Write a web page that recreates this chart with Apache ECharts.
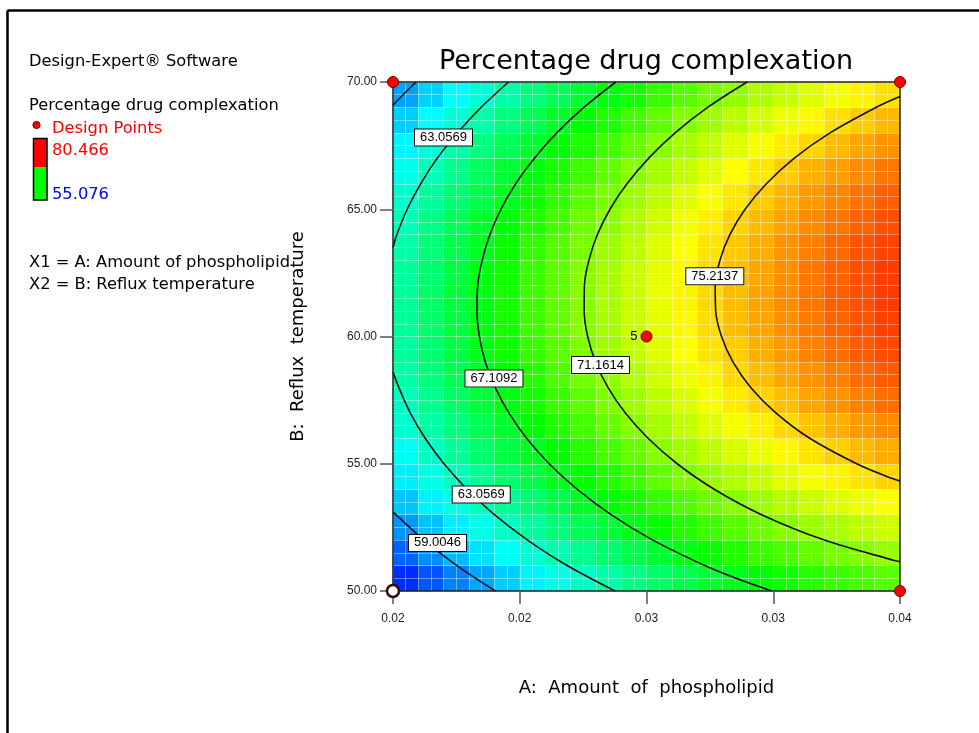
<!DOCTYPE html>
<html><head><meta charset="utf-8">
<script src="https://cdn.jsdelivr.net/npm/echarts@6/dist/echarts.min.js"></script>
<style>html,body{margin:0;padding:0;background:#fff}#c{width:979px;height:733px}</style>
</head><body><div id="c"></div>
<script>
// ---- data ----
const xTickLabels = ['0.02', '0.02', '0.03', '0.03', '0.04'];
const yTickLabels = ['50.00', '55.00', '60.00', '65.00', '70.00'];

// cell centres of the response-surface grid
const cellA = [0.0205,0.0215,0.0225,0.0235,0.0245,0.0255,0.0265,0.0275,0.0285,0.0295,0.0305,0.0315,0.0325,0.0335,0.0345,0.0355,0.0365,0.0375,0.0385,0.0395];
const cellB = [50.5,51.5,52.5,53.5,54.5,55.5,56.5,57.5,58.5,59.5,60.5,61.5,62.5,63.5,64.5,65.5,66.5,67.5,68.5,69.5];

// predicted % drug complexation, one row per B cell (bottom to top)
const surfaceRows = [
 [56.2,57.2,58.3,59.2,60.2,61.1,62.0,62.8,63.6,64.4,65.1,65.8,66.5,67.1,67.7,68.2,68.7,69.2,69.6,70.0],
 [57.6,58.6,59.7,60.7,61.6,62.6,63.4,64.3,65.1,65.9,66.6,67.3,68.0,68.6,69.2,69.7,70.2,70.7,71.1,71.5],
 [58.8,59.9,61.0,62.0,62.9,63.9,64.8,65.6,66.4,67.2,67.9,68.6,69.3,69.9,70.5,71.1,71.6,72.0,72.5,72.9],
 [60.0,61.1,62.1,63.1,64.1,65.0,65.9,66.8,67.6,68.4,69.1,69.8,70.5,71.1,71.7,72.3,72.8,73.3,73.7,74.1],
 [61.0,62.1,63.1,64.1,65.1,66.1,67.0,67.8,68.6,69.4,70.2,70.9,71.6,72.2,72.8,73.4,73.9,74.4,74.8,75.2],
 [61.8,62.9,64.0,65.0,66.0,66.9,67.8,68.7,69.5,70.3,71.1,71.8,72.5,73.1,73.7,74.3,74.8,75.3,75.8,76.2],
 [62.6,63.7,64.7,65.7,66.7,67.7,68.6,69.5,70.3,71.1,71.9,72.6,73.3,73.9,74.5,75.1,75.6,76.1,76.6,77.0],
 [63.1,64.2,65.3,66.3,67.3,68.3,69.2,70.1,70.9,71.7,72.5,73.2,73.9,74.6,75.2,75.7,76.3,76.8,77.2,77.7],
 [63.6,64.7,65.8,66.8,67.8,68.7,69.7,70.6,71.4,72.2,73.0,73.7,74.4,75.1,75.7,76.3,76.8,77.3,77.8,78.2],
 [63.9,65.0,66.1,67.1,68.1,69.1,70.0,70.9,71.7,72.6,73.3,74.1,74.8,75.4,76.1,76.6,77.2,77.7,78.2,78.6],
 [64.0,65.1,66.2,67.3,68.3,69.3,70.2,71.1,71.9,72.8,73.5,74.3,75.0,75.7,76.3,76.9,77.4,78.0,78.4,78.9],
 [64.0,65.2,66.3,67.3,68.3,69.3,70.2,71.1,72.0,72.8,73.6,74.4,75.1,75.7,76.4,77.0,77.5,78.1,78.5,79.0],
 [63.9,65.0,66.1,67.2,68.2,69.2,70.1,71.1,71.9,72.8,73.5,74.3,75.0,75.7,76.3,76.9,77.5,78.0,78.5,79.0],
 [63.6,64.8,65.9,67.0,68.0,69.0,69.9,70.8,71.7,72.5,73.3,74.1,74.8,75.5,76.1,76.8,77.3,77.9,78.4,78.8],
 [63.2,64.4,65.5,66.6,67.6,68.6,69.5,70.5,71.3,72.2,73.0,73.8,74.5,75.2,75.8,76.4,77.0,77.5,78.0,78.5],
 [62.7,63.9,65.0,66.0,67.1,68.1,69.0,70.0,70.8,71.7,72.5,73.3,74.0,74.7,75.4,76.0,76.6,77.1,77.6,78.1],
 [62.0,63.2,64.3,65.4,66.4,67.4,68.4,69.3,70.2,71.1,71.9,72.6,73.4,74.1,74.7,75.4,76.0,76.5,77.0,77.5],
 [61.2,62.4,63.5,64.6,65.6,66.6,67.6,68.5,69.4,70.3,71.1,71.9,72.6,73.3,74.0,74.6,75.2,75.8,76.3,76.8],
 [60.2,61.4,62.5,63.6,64.7,65.7,66.7,67.6,68.5,69.4,70.2,71.0,71.7,72.4,73.1,73.7,74.3,74.9,75.4,75.9],
 [59.1,60.3,61.4,62.5,63.6,64.6,65.6,66.5,67.4,68.3,69.1,69.9,70.7,71.4,72.1,72.7,73.3,73.9,74.4,74.9]
];

// contour lines [A, B]
const c75 = [[0.04,69.43],[0.03905,69],[0.03724,68],[0.03582,67],[0.03473,66],[0.03389,65],[0.03329,64],[0.0329,63],[0.03271,62],[0.03273,61],[0.03296,60],[0.03341,59],[0.03411,58],[0.0351,57],[0.03644,56],[0.03829,55],[0.03948,54.5],[0.04,54.32]];
const c71 = [[0.03397,70],[0.03241,69],[0.03113,68],[0.03008,67],[0.02923,66],[0.02856,65],[0.02806,64],[0.02773,63],[0.02755,62],[0.02754,61],[0.02768,60],[0.02799,59],[0.02848,58],[0.02916,57],[0.03006,56],[0.03121,55],[0.03267,54],[0.03454,53],[0.03702,52],[0.03978,51.2],[0.04,51.15]];
const c67 = [[0.02879,70],[0.02753,69],[0.02646,68],[0.02558,67],[0.02484,66],[0.02426,65],[0.02382,64],[0.02352,63],[0.02334,62],[0.02331,61],[0.02341,60],[0.02364,59],[0.02403,58],[0.02457,57],[0.02527,56],[0.02616,55],[0.02726,54],[0.0286,53],[0.03025,52],[0.0323,51],[0.03353,50.5],[0.03494,50]];
const c63upper = [[0.02456,70],[0.02347,69],[0.02254,68],[0.02174,67],[0.02109,66],[0.02056,65],[0.02015,64],[0.02,63.5]];
const c63lower = [[0.02,58.6],[0.02023,58],[0.02068,57],[0.02127,56],[0.02201,55],[0.02292,54],[0.024,53],[0.02531,52],[0.02687,51],[0.02876,50]];
const c59lower = [[0.02,53.1],[0.02011,53],[0.02122,52],[0.02252,51],[0.02404,50]];
const c59upper = [[0.02,69.09],[0.0204,69.5],[0.02091,70]];

// contour labels
const labelText = ['63.0569', '75.2137', '71.1614', '67.1092', '63.0569', '59.0046'];
const labelA = [0.021992, 0.032694, 0.028185, 0.023984, 0.02348, 0.021755];
const labelB = [67.82, 62.37, 58.88, 58.35, 53.79, 51.89];

// design points
const designA = [0.02, 0.04, 0.04, 0.03];
const designB = [70, 70, 50, 60];
const designReps = [1, 1, 1, 5];
const openA = [0.02];
const openB = [50];

const colorMin = 55.076, colorMax = 80.466;

// ---- build ----
const heatData = [];
surfaceRows.forEach((row, j) => row.forEach((v, i) => heatData.push([i, j, v])));

function contour(data) {
  return { type: 'line', xAxisIndex: 0, yAxisIndex: 0, data: data, smooth: 0.35, showSymbol: false, symbol: 'none',
    lineStyle: { color: '#111', width: 1.6 }, z: 4, silent: true };
}

const labelData = labelText.map((t, i) => ({ name: t, value: [labelA[i], labelB[i]] }));
const designData = designA.map((a, i) => ({
  value: [a, designB[i]],
  label: { show: designReps[i] > 1, formatter: String(designReps[i]), position: 'left', distance: 3,
    fontSize: 13, color: '#000', fontFamily: 'Liberation Sans' }
}));
const openData = openA.map((a, i) => [a, openB[i]]);

const txt = (text, x, y, color, size, align) => ({
  type: 'text', z: 10,
  style: { text: text, x: x, y: y, fill: color || '#000', font: (size || 16.3) + 'px "DejaVu Sans"',
    textAlign: align || 'left', align: align || 'left', textVerticalAlign: 'middle', verticalAlign: 'middle' }
});

const chart = echarts.init(document.getElementById('c'), null, { renderer: 'canvas' });
chart.setOption({
  animation: false,
  backgroundColor: '#fff',
  grid: { left: 393, top: 82, width: 507, height: 509, containLabel: false },
  visualMap: { type: 'continuous', min: colorMin, max: colorMax, seriesIndex: 0, show: false,
    inRange: { color: ['#0000ff', '#00ffff', '#00ff00', '#ffff00', '#ff0000'] } },
  xAxis: [
    { type: 'value', min: 0.02, max: 0.04, interval: 0.005, position: 'bottom', z: 6,
      axisLine: { show: true, onZero: false, lineStyle: { color: '#222', width: 1.5 } },
      axisTick: { show: true, length: 13, lineStyle: { color: '#555', width: 1.5 } },
      axisLabel: { margin: 22, fontSize: 12, color: '#222', fontFamily: 'Liberation Sans',
        formatter: (v, i) => xTickLabels[i], showMinLabel: true, showMaxLabel: true },
      splitLine: { show: false },
      name: 'A:  Amount  of  phospholipid', nameLocation: 'middle', nameGap: 88,
      nameTextStyle: { fontSize: 18, fontFamily: 'DejaVu Sans', color: '#000' } },
    { type: 'category', data: cellA.map(String), show: false, position: 'bottom' },
    { type: 'value', min: 0.02, max: 0.04, interval: 0.0005, position: 'top', z: 3,
      axisLine: { show: true, onZero: false, lineStyle: { color: '#222', width: 1.5 } },
      axisTick: { show: false }, axisLabel: { show: false },
      splitLine: { show: true, lineStyle: { color: 'rgba(255,255,255,0.38)', width: 1 } } }
  ],
  yAxis: [
    { type: 'value', min: 50, max: 70, interval: 5, position: 'left', z: 6,
      axisLine: { show: true, onZero: false, lineStyle: { color: '#222', width: 1.5 } },
      axisTick: { show: true, length: 13, lineStyle: { color: '#555', width: 1.5 } },
      axisLabel: { margin: 16, fontSize: 12, color: '#222', fontFamily: 'Liberation Sans',
        formatter: (v, i) => yTickLabels[i], showMinLabel: true, showMaxLabel: true },
      splitLine: { show: false },
      name: 'B:  Reflux  temperature', nameLocation: 'middle', nameGap: 86,
      nameTextStyle: { fontSize: 18, fontFamily: 'DejaVu Sans', color: '#000' } },
    { type: 'category', data: cellB.map(String), show: false, position: 'left' },
    { type: 'value', min: 50, max: 70, interval: 0.5, position: 'right', z: 3,
      axisLine: { show: true, onZero: false, lineStyle: { color: '#222', width: 1.5 } },
      axisTick: { show: false }, axisLabel: { show: false },
      splitLine: { show: true, lineStyle: { color: 'rgba(255,255,255,0.38)', width: 1 } } }
  ],
  series: [
    { type: 'heatmap', xAxisIndex: 1, yAxisIndex: 1, data: heatData, z: 2, itemStyle: { borderWidth: 0 } },
    contour(c75), contour(c71), contour(c67), contour(c63upper), contour(c63lower), contour(c59lower), contour(c59upper),
    { type: 'scatter', xAxisIndex: 0, yAxisIndex: 0, data: labelData, symbolSize: 0, z: 7, silent: true,
      itemStyle: { opacity: 1 },
      label: { show: true, position: 'inside', formatter: '{b}', fontSize: 13, fontFamily: 'Liberation Sans', color: '#000',
        backgroundColor: '#ffffff', borderColor: '#111', borderWidth: 1, padding: [2, 5, 1, 5], opacity: 1 } },
    { type: 'scatter', xAxisIndex: 0, yAxisIndex: 0, data: designData, symbol: 'circle', symbolSize: 11, z: 9, clip: false,
      itemStyle: { color: '#ff0000', borderColor: '#6a0000', borderWidth: 1, opacity: 1 } },
    { type: 'scatter', xAxisIndex: 0, yAxisIndex: 0, data: openData, symbol: 'circle', symbolSize: 12, z: 9, clip: false,
      itemStyle: { color: '#ffffff', borderColor: '#3a0808', borderWidth: 2.5, opacity: 1 } }
  ],
  graphic: [
    { type: 'line', z: 10, shape: { x1: 7.5, y1: 10.5, x2: 979, y2: 10.5 }, style: { stroke: '#000', lineWidth: 2.5 } },
    { type: 'line', z: 10, shape: { x1: 7.5, y1: 10.5, x2: 7.5, y2: 733 }, style: { stroke: '#000', lineWidth: 2.5 } },
    txt('Percentage drug complexation', 646, 62, '#000', 27, 'center'),
    txt('Design-Expert® Software', 29, 62),
    txt('Percentage drug complexation', 29, 106),
    { type: 'circle', z: 10, shape: { cx: 36.5, cy: 125, r: 3.6 }, style: { fill: '#ff0000', stroke: '#600000', lineWidth: 1 } },
    txt('Design Points', 52, 129, '#ff0000'),
    { type: 'rect', z: 10, shape: { x: 33.5, y: 138.5, width: 13.5, height: 29 }, style: { fill: '#ff0000' } },
    { type: 'rect', z: 10, shape: { x: 33.5, y: 167.5, width: 13.5, height: 32.5 }, style: { fill: '#00ff00' } },
    { type: 'rect', z: 11, shape: { x: 33.5, y: 138.5, width: 13.5, height: 61.5 }, style: { fill: 'none', stroke: '#000', lineWidth: 1.5 } },
    txt('80.466', 52, 151, '#ff0000'),
    txt('55.076', 52, 195, '#0000ff'),
    txt('X1 = A: Amount of phospholipid', 29, 263),
    txt('X2 = B: Reflux temperature', 29, 285)
  ]
});
</script></body></html>
